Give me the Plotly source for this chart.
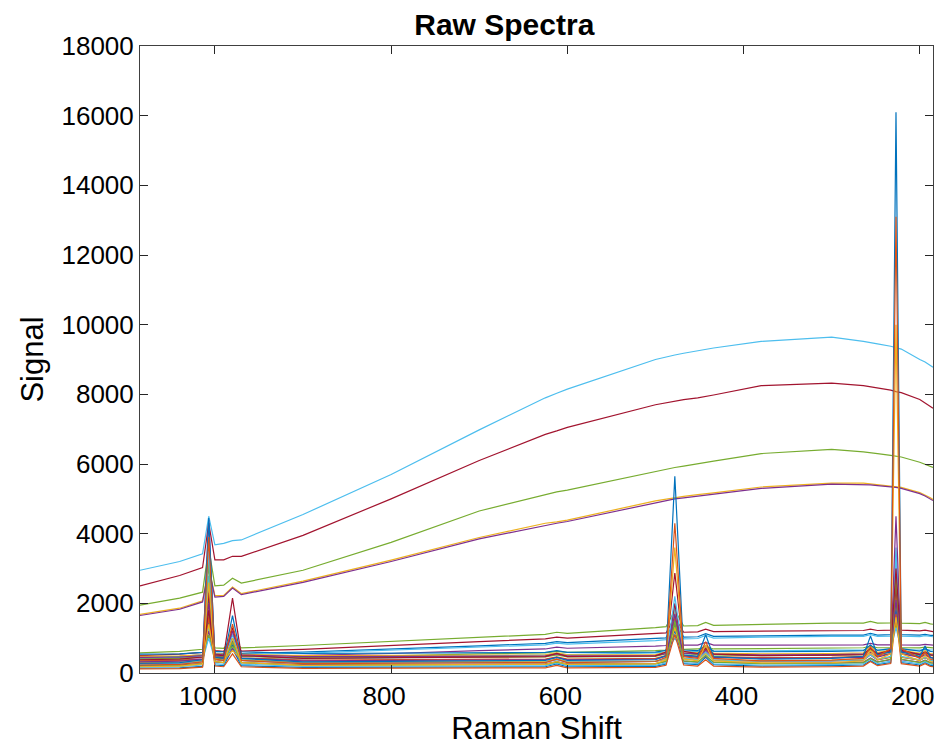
import plotly.graph_objects as go

# Raman shift sample points (cm^-1) shared by every spectrum
raman_shift = [1085, 1040, 1014, 1007, 1000, 990, 980, 970, 900, 800, 700, 625, 612, 600,
               500, 488, 478, 468, 452, 443, 434, 380, 300, 264, 256, 248, 233, 227, 221,
               200, 194, 188, 185]

# high-background spectra
cyan_hi = [2950, 3200, 3420, 4500, 3680, 3720, 3800, 3820, 4550, 5700, 6980, 7900, 8030, 8150,
           9000, 9080, 9130, 9180, 9260, 9300, 9330, 9520, 9640, 9520, 9490, 9450, 9380, 9340, 9300,
           9000, 8930, 8830, 8780]
red_hi = [2500, 2800, 3030, 4300, 3250, 3250, 3350, 3350, 3950, 5000, 6100, 6850, 6950, 7050,
          7700, 7760, 7800, 7850, 7900, 7950, 7980, 8250, 8320, 8250, 8220, 8190, 8120, 8080, 8050,
          7850, 7750, 7660, 7600]
green_hi = [1950, 2150, 2320, 3600, 2500, 2520, 2720, 2580, 2950, 3750, 4650, 5120, 5200, 5250,
            5800, 5850, 5900, 5940, 6000, 6050, 6080, 6300, 6420, 6350, 6330, 6300, 6250, 6220, 6200,
            6050, 5990, 5930, 5900]
yellow_hi = [1680, 1860, 2070, 3050, 2220, 2230, 2470, 2280, 2640, 3240, 3890, 4300, 4340, 4390,
             4940, 4990, 5040, 5070, 5120, 5140, 5170, 5340, 5450, 5450, 5430, 5410, 5380, 5360, 5330,
             5180, 5110, 5030, 4980]
purple_hi = [1650, 1830, 2040, 3000, 2180, 2200, 2440, 2250, 2600, 3200, 3850, 4250, 4300, 4350,
             4900, 4950, 5000, 5030, 5080, 5100, 5130, 5300, 5420, 5420, 5400, 5380, 5350, 5330, 5300,
             5150, 5080, 5000, 4950]

# low-background spectra
low_spectra = [
    [580, 620, 680, 1600, 720, 710, 950, 720, 790, 900, 1030, 1110, 1170, 1140, 1300, 1330, 1800, 1350, 1360, 1450, 1370, 1400, 1430, 1430, 1480, 1430, 1440, 2200, 1430, 1420, 1450, 1410, 1400],
    [500, 540, 590, 1400, 640, 620, 1100, 630, 680, 780, 900, 980, 1030, 1000, 1120, 1150, 1600, 1170, 1180, 1260, 1190, 1200, 1210, 1220, 1260, 1220, 1230, 2000, 1230, 1210, 1230, 1200, 1190],
    [450, 480, 520, 1500, 570, 560, 1000, 560, 600, 680, 780, 850, 900, 870, 980, 1010, 1500, 1030, 1040, 1130, 1050, 1070, 1090, 1090, 1140, 1090, 1100, 1800, 1100, 1085, 1110, 1080, 1080],
    [420, 450, 490, 1300, 540, 530, 950, 530, 570, 650, 740, 810, 860, 830, 930, 960, 1400, 980, 990, 1080, 1000, 1030, 1050, 1050, 1100, 1050, 1060, 1700, 1060, 1045, 1070, 1040, 1040],
    [390, 410, 440, 1200, 480, 470, 850, 470, 500, 560, 640, 690, 740, 710, 770, 790, 1200, 800, 800, 880, 800, 800, 805, 805, 850, 805, 810, 1500, 810, 800, 820, 800, 800],
    [340, 360, 390, 1100, 420, 410, 780, 410, 440, 490, 550, 580, 620, 590, 640, 660, 1100, 680, 690, 760, 690, 700, 720, 725, 770, 725, 730, 1400, 730, 720, 740, 720, 720],
    [310, 330, 360, 1000, 390, 380, 720, 380, 400, 440, 490, 520, 560, 530, 580, 600, 1000, 610, 620, 700, 620, 640, 655, 660, 700, 660, 665, 1300, 665, 660, 680, 660, 660],
    [140, 150, 190, 2200, 230, 210, 700, 210, 160, 165, 170, 180, 260, 180, 190, 260, 1300, 270, 240, 450, 240, 200, 210, 230, 350, 240, 300, 2400, 300, 230, 300, 220, 210],
    [350, 360, 400, 1900, 450, 430, 800, 430, 370, 380, 390, 400, 460, 400, 420, 500, 1600, 510, 480, 680, 470, 440, 450, 480, 700, 490, 560, 2600, 560, 470, 560, 460, 450],
    [480, 490, 520, 2000, 560, 540, 850, 540, 500, 505, 510, 520, 580, 520, 530, 600, 1800, 610, 580, 760, 570, 550, 560, 580, 780, 590, 650, 2200, 650, 570, 640, 560, 550],
    [220, 230, 280, 2400, 320, 300, 700, 300, 240, 245, 250, 260, 330, 260, 270, 330, 1300, 340, 310, 480, 310, 280, 290, 310, 430, 320, 380, 2000, 380, 310, 370, 300, 290],
    [400, 420, 460, 1700, 500, 480, 760, 480, 430, 440, 450, 460, 520, 460, 480, 550, 1400, 560, 530, 700, 520, 500, 510, 530, 680, 540, 600, 1900, 600, 520, 590, 510, 500],
    [170, 180, 230, 2800, 270, 250, 900, 250, 190, 195, 200, 210, 290, 210, 220, 290, 1900, 300, 270, 520, 260, 230, 240, 260, 400, 270, 340, 3300, 340, 260, 330, 250, 240],
    [270, 280, 330, 2300, 380, 360, 1300, 360, 290, 300, 310, 320, 390, 320, 330, 400, 2000, 410, 380, 600, 370, 340, 350, 370, 520, 380, 450, 2500, 450, 370, 440, 360, 350],
    [540, 550, 590, 1500, 620, 610, 800, 610, 560, 570, 580, 590, 640, 590, 600, 650, 1200, 660, 640, 780, 630, 610, 620, 640, 800, 650, 700, 1800, 700, 630, 700, 620, 610],
    [120, 125, 170, 1600, 200, 180, 550, 180, 130, 135, 140, 150, 220, 150, 160, 220, 1100, 230, 200, 380, 200, 170, 180, 200, 330, 210, 270, 1700, 270, 200, 270, 190, 180],
    [300, 310, 350, 1400, 400, 380, 650, 380, 310, 315, 320, 330, 400, 330, 340, 400, 1300, 410, 380, 560, 370, 350, 360, 380, 560, 390, 460, 1600, 460, 380, 450, 370, 360],
    [450, 460, 500, 2000, 540, 520, 900, 520, 470, 475, 480, 490, 550, 490, 500, 560, 1500, 570, 550, 720, 540, 520, 530, 550, 700, 560, 620, 2100, 620, 540, 600, 530, 520],
    [200, 210, 270, 3200, 330, 300, 900, 300, 220, 230, 240, 250, 310, 250, 260, 340, 1500, 350, 320, 500, 310, 270, 280, 300, 420, 310, 400, 2800, 400, 300, 360, 290, 280],
    [250, 270, 330, 3500, 400, 370, 1100, 360, 280, 290, 300, 310, 380, 310, 330, 420, 2200, 430, 390, 600, 380, 340, 350, 380, 520, 390, 480, 3600, 480, 380, 450, 370, 360],
    [320, 340, 400, 4400, 460, 440, 1200, 430, 350, 360, 370, 380, 450, 380, 400, 480, 1700, 490, 450, 650, 450, 420, 430, 450, 600, 460, 550, 4500, 550, 450, 520, 440, 430],
    [380, 400, 460, 1800, 520, 500, 2150, 500, 420, 440, 460, 470, 560, 470, 490, 600, 2870, 620, 560, 700, 540, 500, 510, 530, 700, 550, 650, 3000, 650, 530, 600, 520, 510],
    [180, 200, 260, 2600, 330, 300, 1000, 300, 220, 230, 240, 250, 330, 250, 270, 380, 3600, 400, 350, 800, 350, 290, 300, 350, 650, 380, 550, 10000, 550, 350, 500, 330, 320],
    [280, 300, 380, 4450, 450, 420, 1650, 420, 320, 330, 340, 360, 450, 360, 380, 500, 5650, 520, 480, 1100, 470, 400, 420, 480, 1060, 520, 600, 16100, 600, 480, 775, 450, 420],
    [230, 250, 320, 3900, 400, 360, 1400, 360, 270, 280, 290, 300, 400, 300, 330, 450, 4300, 470, 420, 900, 420, 350, 370, 420, 750, 470, 700, 13100, 700, 420, 600, 400, 380],
]

x_ticks = [1000, 800, 600, 400, 200]
y_ticks = [0, 2000, 4000, 6000, 8000, 10000, 12000, 14000, 16000, 18000]

# styles (MATLAB default colour order)
high_colors = ["#4DBEEE", "#A2142F", "#77AC30", "#EDB120", "#7E2F8E"]
low_colors = ["#77AC30", "#A2142F", "#0072BD", "#4DBEEE", "#7E2F8E", "#77AC30", "#4DBEEE",
              "#0072BD", "#D95319", "#EDB120", "#7E2F8E", "#77AC30", "#4DBEEE", "#A2142F",
              "#0072BD", "#D95319", "#EDB120", "#7E2F8E",
              "#77AC30", "#4DBEEE", "#7E2F8E", "#A2142F", "#EDB120", "#0072BD", "#D95319"]

FONT = "Liberation Sans, Arial, Helvetica, sans-serif"

fig = go.Figure()
for ys, c in zip([cyan_hi, red_hi, green_hi, yellow_hi, purple_hi], high_colors):
    fig.add_trace(go.Scatter(x=raman_shift, y=ys, mode="lines",
                             line=dict(color=c, width=1.2), showlegend=False))
for ys, c in zip(low_spectra, low_colors):
    fig.add_trace(go.Scatter(x=raman_shift, y=ys, mode="lines",
                             line=dict(color=c, width=1.2), showlegend=False))

axis_common = dict(showline=True, linecolor="#404040", linewidth=1, mirror="ticks",
                   ticks="inside", ticklen=8, tickcolor="#262626", showgrid=False,
                   zeroline=False, automargin=False, ticklabeloverflow="allow",
                   tickfont=dict(family=FONT, size=26, color="#000000"))

fig.update_layout(
    width=940, height=754,
    margin=dict(l=140, r=7, t=46, b=81),
    paper_bgcolor="white", plot_bgcolor="white",
    title=dict(text="<b>Raw Spectra</b>", x=0.5365, xanchor="center", y=0.968, yanchor="middle",
               font=dict(family=FONT, size=30, color="#000000")),
    xaxis=dict(range=[1085, 185], tickvals=x_ticks, tickformat="d", ticklabelshift=7,
               title=dict(text="Raman Shift", standoff=6,
                          font=dict(family=FONT, size=31, color="#000000")),
               **axis_common),
    yaxis=dict(range=[0, 18000], tickvals=y_ticks, tickformat="d",
               title=dict(text="Signal", standoff=8,
                          font=dict(family=FONT, size=31, color="#000000")),
               **axis_common),
)

fig.write_html("out.html")
